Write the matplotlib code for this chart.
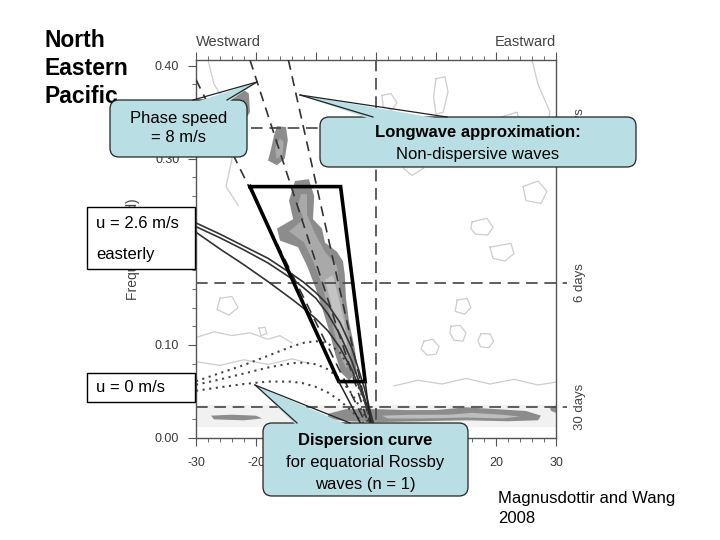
import matplotlib
matplotlib.use('Agg')
import matplotlib.pyplot as plt
from matplotlib.patches import FancyBboxPatch, Polygon, Rectangle
from matplotlib.lines import Line2D
from matplotlib.transforms import IdentityTransform, blended_transform_factory
import numpy as np

plt.rcParams['font.family'] = ['Liberation Sans', 'DejaVu Sans']

# ---- data (wavenumber k, frequency f in cpd) ----
x_ticks = [-30, -20, -10, 0, 10, 20, 30]
x_labels = ['-30', '-20', '', '', '', '20', '30']   # -10, 0, 10 sit under the callout
y_ticks = [0.0, 0.1, 0.2, 0.3, 0.4]
y_labels = ['0.00', '0.10', '0.20', '0.30', '0.40']
period_f = [1/3., 1/6., 1/30.]
period_labels = ['3 days', '6 days', '30 days']

# dispersion curves, u = 0 (dotted)
k_curve = [-30, -26, -22, -18, -14, -12, -10, -8, -6, -4, -2, -1, 0]
dot1 = [0.061, 0.0697, 0.0784, 0.0883, 0.0984, 0.1023, 0.104, 0.1015, 0.0918, 0.0717, 0.040, 0.0206, 0]
dot2 = [0.0572, 0.0629, 0.0693, 0.0757, 0.0804, 0.0809, 0.0792, 0.0738, 0.0635, 0.0473, 0.0255, 0.013, 0]
dot3 = [0.0507, 0.0545, 0.058, 0.0606, 0.0605, 0.0586, 0.0548, 0.0488, 0.0401, 0.0287, 0.015, 0.0076, 0]

# dispersion curves, u = 2.6 m/s easterly (solid)
sol1 = [0.231, 0.219, 0.206, 0.193, 0.176, 0.167, 0.156, 0.143, 0.124, 0.096, 0.055, 0.030, 0.005]
sol2 = [0.227, 0.215, 0.202, 0.188, 0.171, 0.161, 0.150, 0.133, 0.111, 0.082, 0.045, 0.025, 0.005]
sol3 = [0.221, 0.203, 0.186, 0.168, 0.149, 0.139, 0.128, 0.115, 0.097, 0.073, 0.042, 0.024, 0.005]

# non-dispersive (longwave) lines, from top end to the origin
nd_k_top = [-30, -21, -14.6]
nd_f_top = [0.385, 0.406, 0.406]
nd_k0, nd_f0 = -0.5, 0.0

# thick trapezoid
box_k = [-21, -5.9, -1.8, -6.2, -21]
box_f = [0.27, 0.27, 0.0606, 0.0606, 0.27]
box_tail_k = [[-6.2, -1.3], [-1.8, -0.6]]
box_tail_f = [[0.0606, 0.0], [0.0606, 0.0]]

# shaded spectral peaks
main_k = [-13.5, -14.5, -13.8, -16.5, -16.0, -13.0, -11.5, -10.0, -9.0, -7.8, -6.8, -5.8, -4.5,
          -3.2, -3.5, -4.5, -5.0, -5.2, -5.5, -6.5, -8.5, -9.0, -10.5, -10.3, -11.2]
main_f = [0.276, 0.255, 0.235, 0.225, 0.212, 0.205, 0.185, 0.160, 0.140, 0.115, 0.090, 0.070, 0.062,
          0.070, 0.095, 0.125, 0.150, 0.175, 0.190, 0.200, 0.210, 0.225, 0.235, 0.260, 0.278]
main_in_k = [-12.5, -13.0, -12.0, -14.5, -12.0, -10.5, -9.0, -8.0, -7.0, -6.0, -5.0, -4.2, -4.3,
             -5.2, -6.0, -6.5, -8.5, -10.2, -11.5, -11.5]
main_in_f = [0.262, 0.250, 0.235, 0.222, 0.210, 0.190, 0.165, 0.140, 0.115, 0.090, 0.075, 0.080,
             0.105, 0.130, 0.160, 0.185, 0.200, 0.220, 0.240, 0.262]
main_core_k = [-8.5, -7.5, -6.5, -5.5, -4.8, -5.3, -6.2, -7.2]
main_core_f = [0.170, 0.145, 0.120, 0.100, 0.100, 0.125, 0.150, 0.175]
blob2_k = [-16.5, -15.0, -14.7, -15.2, -16.5, -18.0, -17.5, -17.0]
blob2_f = [0.335, 0.334, 0.320, 0.300, 0.293, 0.298, 0.310, 0.325]
blob2_in_k = [-16.0, -15.4, -15.6, -16.6, -16.8]
blob2_in_f = [0.322, 0.318, 0.303, 0.300, 0.312]
blob3_k = [-22.5, -21.2, -21.0, -22.0, -24.0, -25.0]
blob3_f = [0.376, 0.370, 0.350, 0.340, 0.350, 0.360]
band_k = [-8, -5, 0, 5, 10, 15, 20, 25, 27.5, 27, 22, 15, 8, 0, -5, -8]
band_f = [0.026, 0.031, 0.031, 0.030, 0.030, 0.033, 0.031, 0.029, 0.024, 0.019, 0.018, 0.019, 0.018, 0.017, 0.018, 0.021]
band_in_k = [1, 6, 12, 16, 21, 24, 21, 15, 8, 2]
band_in_f = [0.024, 0.025, 0.025, 0.027, 0.025, 0.023, 0.021, 0.022, 0.021, 0.021]
bandw_k = [-27.5, -24, -20, -19, -22, -27]
bandw_f = [0.024, 0.025, 0.024, 0.021, 0.019, 0.020]
edge_k = [29.0, 30.0, 30.0, 29.2]
edge_f = [0.032, 0.035, 0.027, 0.029]
pale_k = [-30, 30, 30, -30]
pale_f = [0.012, 0.012, 0.035, 0.035]

# light contour loops
loops = [
    ([8.0, 9.5, 10.5, 10.0, 8.5, 7.5, 8.0], [0.104, 0.106, 0.098, 0.090, 0.089, 0.096, 0.104]),
    ([12.5, 14.0, 15.0, 14.5, 13.0, 12.3, 12.5], [0.120, 0.121, 0.113, 0.104, 0.105, 0.113, 0.120]),
    ([17.5, 19.0, 19.6, 18.8, 17.4, 17.0, 17.5], [0.112, 0.112, 0.104, 0.097, 0.098, 0.105, 0.112]),
    ([10.0, 11.5, 12.0, 11.2, 10.0, 9.6, 10.0], [0.386, 0.388, 0.372, 0.350, 0.348, 0.366, 0.386]),
    ([1.0, 2.5, 3.5, 2.6, 1.2, 1.0], [0.368, 0.370, 0.360, 0.352, 0.356, 0.368]),
    ([16.0, 18.5, 19.5, 18.6, 16.6, 15.8, 16.0], [0.232, 0.236, 0.226, 0.218, 0.219, 0.225, 0.232]),
    ([19.0, 22.5, 23.0, 21.5, 19.5, 19.0], [0.205, 0.209, 0.198, 0.190, 0.193, 0.205]),
    ([13.5, 15.2, 15.8, 14.8, 13.2, 13.5], [0.148, 0.150, 0.140, 0.133, 0.136, 0.148]),
    ([24.5, 27.0, 28.5, 27.5, 25.0, 24.5], [0.270, 0.276, 0.265, 0.252, 0.255, 0.270]),
    ([5.0, 7.5, 8.0, 6.0, 4.5, 5.0], [0.300, 0.305, 0.290, 0.282, 0.290, 0.300]),
    ([21.0, 23.5, 24.0, 22.5, 20.5, 21.0], [0.345, 0.350, 0.338, 0.330, 0.334, 0.345]),
    ([-26.0, -24.0, -23.0, -24.5, -26.5, -26.0], [0.150, 0.152, 0.140, 0.132, 0.138, 0.150]),
    ([-19.5, -18.5, -18.2, -19.2, -19.5], [0.118, 0.119, 0.112, 0.110, 0.118]),
]
wiggles = [
    ([-30, -27, -24, -21, -18, -16, -14], [0.108, 0.114, 0.110, 0.113, 0.106, 0.110, 0.102]),
    ([3, 7, 11, 15, 19, 23, 27, 30], [0.056, 0.062, 0.058, 0.064, 0.058, 0.063, 0.057, 0.060]),
    ([-28, -27, -25, -26, -24, -25, -23], [0.406, 0.380, 0.360, 0.330, 0.300, 0.270, 0.250]),
    ([26, 27, 29, 28, 30], [0.406, 0.380, 0.350, 0.320, 0.300]),
    ([-30, -26, -22, -18, -14, -11], [0.082, 0.078, 0.084, 0.079, 0.085, 0.080]),
]

W, H = 720, 540
CALL = '#b9dfe5'
EDGE = '#222222'

fig = plt.figure(figsize=(7.2, 5.4), dpi=100)
ax = fig.add_axes([196 / W, 1 - 438 / H, 360 / W, 378 / H])
ax.set_xlim(-30, 30)
ax.set_ylim(0, 0.406)

# shading
ax.add_patch(Polygon(list(zip(pale_k, pale_f)), fc='#f1f1f1', ec='none', zorder=0.5))
for kk, ff, c in [(main_k, main_f, '#8c8c8c'), (main_in_k, main_in_f, '#a9a9a9'),
                  (main_core_k, main_core_f, '#c3c3c3'), (blob2_k, blob2_f, '#8c8c8c'),
                  (blob2_in_k, blob2_in_f, '#a9a9a9'), (blob3_k, blob3_f, '#8c8c8c'),
                  (band_k, band_f, '#8c8c8c'), (band_in_k, band_in_f, '#bdbdbd'),
                  (bandw_k, bandw_f, '#8c8c8c'), (edge_k, edge_f, '#8c8c8c')]:
    ax.add_patch(Polygon(list(zip(kk, ff)), fc=c, ec='none', zorder=1))
for kk, ff in loops + wiggles:
    ax.plot(kk, ff, color='#cdcdcd', lw=0.9, zorder=1.2)

# reference dashed lines
ax.axvline(0, color='#444', lw=1.2, dashes=(7, 4), zorder=2)
for f in period_f:
    ax.plot([-30, 31.8], [f, f], color='#444', lw=1.2, dashes=(7, 4), zorder=2, clip_on=False)

# non-dispersive lines
for kt, ft in zip(nd_k_top, nd_f_top):
    ax.plot([kt, nd_k0], [ft, nd_f0], color='#333', lw=1.2, dashes=(6, 4), zorder=3)

# dispersion curves
for s in (sol1, sol2, sol3):
    ax.plot(k_curve, s, color='#333', lw=1.2, zorder=3)
for d in (dot1, dot2, dot3):
    ax.plot(k_curve, d, color='#444', lw=1.5, linestyle=(0, (1, 2.2)), zorder=3)

# trapezoid
ax.plot(box_k, box_f, color='black', lw=2.6, zorder=4, solid_joinstyle='miter')
for kk, ff in zip(box_tail_k, box_tail_f):
    ax.plot(kk, ff, color='#222', lw=1.1, zorder=4)

# axes styling
ax.set_xticks(x_ticks)
ax.set_xticklabels(x_labels)
ax.set_xticks(np.arange(-30, 31, 2), minor=True)
ax.set_yticks(y_ticks)
ax.set_yticklabels(y_labels)
ax.set_yticks(np.arange(0, 0.405, 0.02), minor=True)
ax.tick_params(which='both', direction='out', top=True, right=False, color='#555',
               labelsize=9, labelcolor='#3a3a3a')
ax.tick_params(which='major', length=6)
ax.tick_params(which='minor', length=3)
ax.tick_params(axis='x', pad=8)
ax.tick_params(axis='y', pad=6)
for sp in ax.spines.values():
    sp.set_color('#555')
    sp.set_linewidth(1.0)
ax.set_ylabel('Frequency (cpd)', fontsize=10, color='#444')
ax.yaxis.set_label_coords(-0.156, 0.5)

ax.text(0, 1.03, 'Westward', transform=ax.transAxes, ha='left', va='bottom', fontsize=10.5, color='#444')
ax.text(1, 1.03, 'Eastward', transform=ax.transAxes, ha='right', va='bottom', fontsize=10.5, color='#444')
tr = blended_transform_factory(ax.transAxes, ax.transData)
for f, lab in zip(period_f, period_labels):
    ax.text(1.067, f, lab, transform=tr, rotation=90, ha='center', va='center', fontsize=9.5, color='#444')

ID = IdentityTransform()


def ftext(x, y, s, **kw):
    fig.text(x, H - y, s, transform=ID, **kw)


# title and source
for i, word in enumerate(['North', 'Eastern', 'Pacific']):
    ftext(45, 47 + 28 * i, word, fontsize=16.5, fontweight='bold', va='baseline', zorder=1)
ftext(498, 503, 'Magnusdottir and Wang', fontsize=12, va='baseline')
ftext(498, 523, '2008', fontsize=12, va='baseline')


def callout(x0, y0, x1, y1, b0, b1, tip):
    fig.add_artist(FancyBboxPatch((x0, H - y1), x1 - x0, y1 - y0,
                                  boxstyle='round,pad=0,rounding_size=9', transform=ID,
                                  fc=CALL, ec=EDGE, lw=0.9, zorder=5))
    fig.add_artist(Polygon([(b0, H - y0 - 3), (tip[0], H - tip[1]), (b1, H - y0 - 3)],
                           closed=True, transform=ID, fc=CALL, ec='none', zorder=6))
    for b in (b0, b1):
        fig.add_artist(Line2D([b, tip[0]], [H - y0, H - tip[1]], transform=ID,
                              color=EDGE, lw=0.9, zorder=6))


def whitebox(x0, y0, x1, y1):
    fig.add_artist(Rectangle((x0, H - y1), x1 - x0, y1 - y0, transform=ID,
                             fc='white', ec='black', lw=1.0, zorder=5))


callout(110, 100, 247, 157, 193, 227, (257, 82))
ftext(178.5, 118, 'Phase speed', fontsize=12, ha='center', va='center', zorder=7)
ftext(178.5, 138, '= 8 m/s', fontsize=12, ha='center', va='center', zorder=7)

callout(320, 117, 636, 167, 373, 447, (300, 95))
ftext(478, 133, 'Longwave approximation:', fontsize=12, fontweight='bold', ha='center', va='center', zorder=7)
ftext(478, 155, 'Non-dispersive waves', fontsize=12, ha='center', va='center', zorder=7)

callout(263, 423, 468, 496, 297, 350, (255, 385))
ftext(365.5, 441, 'Dispersion curve', fontsize=12, fontweight='bold', ha='center', va='center', zorder=7)
ftext(365.5, 463, 'for equatorial Rossby', fontsize=12, ha='center', va='center', zorder=7)
ftext(365.5, 485, 'waves (n = 1)', fontsize=12, ha='center', va='center', zorder=7)

whitebox(87, 207, 195, 269)
ftext(96, 223, 'u = 2.6 m/s', fontsize=12, ha='left', va='center', zorder=7)
ftext(96, 255, 'easterly', fontsize=12, ha='left', va='center', zorder=7)
whitebox(87, 373, 195, 402)
ftext(96, 388, 'u = 0 m/s', fontsize=12, ha='left', va='center', zorder=7)

plt.savefig('out.png', dpi=100)
